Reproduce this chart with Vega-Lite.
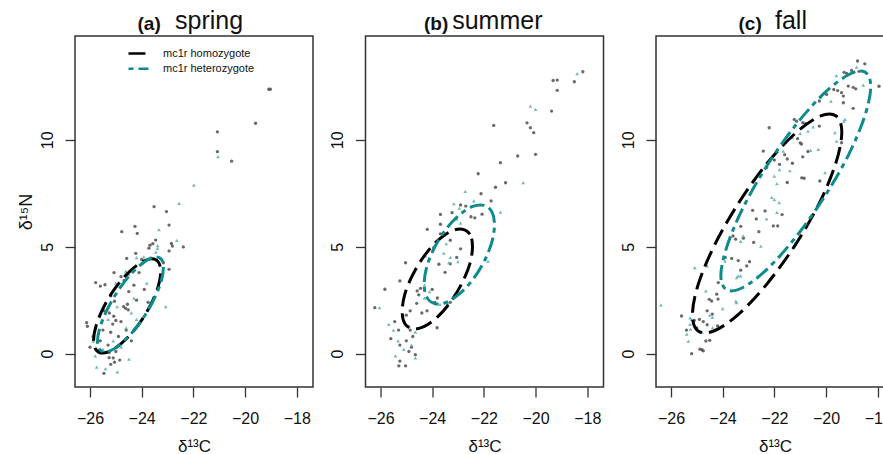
{
 "$schema": "https://vega.github.io/schema/vega-lite/v6.json",
 "background": "white",
 "padding": {"left": 16, "top": 8, "right": 0, "bottom": 0},
 "config": {
  "font": "Liberation Sans",
  "view": {"stroke": "#333", "strokeWidth": 1.5},
  "axis": {"grid": false, "domain": false, "tickColor": "#333", "tickWidth": 1.3, "tickSize": 10,
   "labelFont": "Liberation Sans", "labelFontSize": 16, "labelColor": "#111",
   "titleFont": "Liberation Sans", "titleFontSize": 17, "titleFontWeight": "normal", "titleColor": "#111"},
  "title": {"font": "Liberation Sans", "color": "#111", "fontSize": 25, "fontWeight": "normal", "anchor": "start", "frame": "group", "offset": -20}
 },
 "datasets": {
  "pts": [
   {"p":"a","g":"hom","x":-19.08,"y":12.36},{"p":"a","g":"hom","x":-19.02,"y":12.36},{"p":"a","g":"hom","x":-19.59,"y":10.77},{"p":"a","g":"hom","x":-21.07,"y":10.37},{"p":"a","g":"hom","x":-21.07,"y":9.44},{"p":"a","g":"hom","x":-20.52,"y":9.0},{"p":"a","g":"hom","x":-23.52,"y":6.87},{"p":"a","g":"hom","x":-23.04,"y":6.64},{"p":"a","g":"hom","x":-22.94,"y":6.01},{"p":"a","g":"hom","x":-24.26,"y":5.95},{"p":"a","g":"hom","x":-24.17,"y":5.62},{"p":"a","g":"hom","x":-24.77,"y":5.7},{"p":"a","g":"hom","x":-23.46,"y":5.31},{"p":"a","g":"hom","x":-22.85,"y":5.15},{"p":"a","g":"hom","x":-22.81,"y":5.03},{"p":"a","g":"hom","x":-22.39,"y":4.99},{"p":"a","g":"hom","x":-23.68,"y":5.07},{"p":"a","g":"hom","x":-23.57,"y":5.14},{"p":"a","g":"hom","x":-23.72,"y":4.93},{"p":"a","g":"hom","x":-22.94,"y":4.8},{"p":"a","g":"hom","x":-24.23,"y":4.69},{"p":"a","g":"hom","x":-24.58,"y":4.45},{"p":"a","g":"hom","x":-24.0,"y":4.4},{"p":"a","g":"hom","x":-23.16,"y":4.25},{"p":"a","g":"hom","x":-22.94,"y":3.94},{"p":"a","g":"hom","x":-24.8,"y":3.6},{"p":"a","g":"hom","x":-24.68,"y":3.42},{"p":"a","g":"hom","x":-24.1,"y":3.79},{"p":"a","g":"hom","x":-25.07,"y":3.79},{"p":"a","g":"hom","x":-25.78,"y":3.32},{"p":"a","g":"hom","x":-25.6,"y":3.16},{"p":"a","g":"hom","x":-25.42,"y":3.22},{"p":"a","g":"hom","x":-24.3,"y":3.2},{"p":"a","g":"hom","x":-23.9,"y":3.0},{"p":"a","g":"hom","x":-24.5,"y":2.9},{"p":"a","g":"hom","x":-25.2,"y":2.7},{"p":"a","g":"hom","x":-25.05,"y":2.45},{"p":"a","g":"hom","x":-24.55,"y":2.31},{"p":"a","g":"hom","x":-24.62,"y":2.12},{"p":"a","g":"hom","x":-24.52,"y":2.05},{"p":"a","g":"hom","x":-24.7,"y":2.2},{"p":"a","g":"hom","x":-24.2,"y":2.5},{"p":"a","g":"hom","x":-23.75,"y":2.4},{"p":"a","g":"hom","x":-25.45,"y":2.0},{"p":"a","g":"hom","x":-25.25,"y":1.9},{"p":"a","g":"hom","x":-25.08,"y":1.75},{"p":"a","g":"hom","x":-25.0,"y":1.55},{"p":"a","g":"hom","x":-25.12,"y":1.38},{"p":"a","g":"hom","x":-24.8,"y":1.5},{"p":"a","g":"hom","x":-26.13,"y":1.45},{"p":"a","g":"hom","x":-26.1,"y":1.28},{"p":"a","g":"hom","x":-25.5,"y":1.1},{"p":"a","g":"hom","x":-25.2,"y":1.0},{"p":"a","g":"hom","x":-24.6,"y":1.1},{"p":"a","g":"hom","x":-24.9,"y":0.8},{"p":"a","g":"hom","x":-25.6,"y":0.6},{"p":"a","g":"hom","x":-26.0,"y":0.3},{"p":"a","g":"hom","x":-25.26,"y":0.05},{"p":"a","g":"hom","x":-25.0,"y":0.1},{"p":"a","g":"hom","x":-25.1,"y":-0.2},{"p":"a","g":"hom","x":-25.26,"y":-0.19},{"p":"a","g":"hom","x":-25.2,"y":-0.5},{"p":"a","g":"hom","x":-25.05,"y":-0.4},{"p":"a","g":"hom","x":-25.46,"y":-0.92},{"p":"a","g":"hom","x":-24.85,"y":-0.3},{"p":"a","g":"hom","x":-25.3,"y":0.4},{"p":"a","g":"hom","x":-24.4,"y":0.6},
   {"p":"a","g":"het","x":-21.05,"y":9.21},{"p":"a","g":"het","x":-21.98,"y":7.88},{"p":"a","g":"het","x":-22.55,"y":7.02},{"p":"a","g":"het","x":-23.33,"y":5.8},{"p":"a","g":"het","x":-22.64,"y":5.3},{"p":"a","g":"het","x":-23.38,"y":5.05},{"p":"a","g":"het","x":-23.39,"y":4.92},{"p":"a","g":"het","x":-23.45,"y":4.75},{"p":"a","g":"het","x":-24.2,"y":4.49},{"p":"a","g":"het","x":-23.92,"y":4.52},{"p":"a","g":"het","x":-24.62,"y":3.86},{"p":"a","g":"het","x":-24.5,"y":3.7},{"p":"a","g":"het","x":-25.0,"y":3.3},{"p":"a","g":"het","x":-24.3,"y":2.6},{"p":"a","g":"het","x":-23.07,"y":2.2},{"p":"a","g":"het","x":-24.4,"y":1.9},{"p":"a","g":"het","x":-24.95,"y":2.2},{"p":"a","g":"het","x":-25.3,"y":1.6},{"p":"a","g":"het","x":-24.6,"y":1.2},{"p":"a","g":"het","x":-25.9,"y":0.83},{"p":"a","g":"het","x":-25.87,"y":0.59},{"p":"a","g":"het","x":-25.8,"y":-0.1},{"p":"a","g":"het","x":-25.74,"y":-0.63},{"p":"a","g":"het","x":-25.4,"y":-0.7},{"p":"a","g":"het","x":-24.94,"y":-0.85},{"p":"a","g":"het","x":-24.49,"y":-0.26},{"p":"a","g":"het","x":-24.8,"y":0.3},{"p":"a","g":"het","x":-25.1,"y":0.6},{"p":"a","g":"het","x":-25.5,"y":0.2},{"p":"a","g":"het","x":-24.2,"y":1.6},{"p":"a","g":"het","x":-23.8,"y":3.3},
   {"p":"b","g":"hom","x":-18.17,"y":13.18},{"p":"b","g":"hom","x":-19.32,"y":12.77},{"p":"b","g":"hom","x":-19.16,"y":12.79},{"p":"b","g":"hom","x":-18.5,"y":12.71},{"p":"b","g":"hom","x":-19.16,"y":12.31},{"p":"b","g":"hom","x":-19.38,"y":11.34},{"p":"b","g":"hom","x":-21.62,"y":10.67},{"p":"b","g":"hom","x":-20.33,"y":10.79},{"p":"b","g":"hom","x":-20.2,"y":10.56},{"p":"b","g":"hom","x":-20.07,"y":10.33},{"p":"b","g":"hom","x":-20.0,"y":9.32},{"p":"b","g":"hom","x":-20.69,"y":9.24},{"p":"b","g":"hom","x":-21.36,"y":8.93},{"p":"b","g":"hom","x":-22.22,"y":8.41},{"p":"b","g":"hom","x":-21.16,"y":7.99},{"p":"b","g":"hom","x":-21.55,"y":7.78},{"p":"b","g":"hom","x":-22.11,"y":7.48},{"p":"b","g":"hom","x":-21.72,"y":7.14},{"p":"b","g":"hom","x":-22.9,"y":6.95},{"p":"b","g":"hom","x":-22.7,"y":6.9},{"p":"b","g":"hom","x":-23.23,"y":6.59},{"p":"b","g":"hom","x":-22.07,"y":6.52},{"p":"b","g":"hom","x":-23.68,"y":6.51},{"p":"b","g":"hom","x":-22.5,"y":6.4},{"p":"b","g":"hom","x":-22.35,"y":6.35},{"p":"b","g":"hom","x":-23.68,"y":6.05},{"p":"b","g":"hom","x":-24.19,"y":5.81},{"p":"b","g":"hom","x":-23.68,"y":5.6},{"p":"b","g":"hom","x":-23.3,"y":5.3},{"p":"b","g":"hom","x":-22.9,"y":4.9},{"p":"b","g":"hom","x":-23.94,"y":4.95},{"p":"b","g":"hom","x":-23.05,"y":4.5},{"p":"b","g":"hom","x":-25.03,"y":4.25},{"p":"b","g":"hom","x":-23.74,"y":4.18},{"p":"b","g":"hom","x":-23.5,"y":3.8},{"p":"b","g":"hom","x":-23.3,"y":4.2},{"p":"b","g":"hom","x":-25.25,"y":3.4},{"p":"b","g":"hom","x":-25.83,"y":3.01},{"p":"b","g":"hom","x":-24.58,"y":2.93},{"p":"b","g":"hom","x":-24.45,"y":3.05},{"p":"b","g":"hom","x":-24.52,"y":2.75},{"p":"b","g":"hom","x":-24.0,"y":3.0},{"p":"b","g":"hom","x":-23.8,"y":2.6},{"p":"b","g":"hom","x":-23.9,"y":2.4},{"p":"b","g":"hom","x":-26.22,"y":2.15},{"p":"b","g":"hom","x":-24.6,"y":2.35},{"p":"b","g":"hom","x":-23.3,"y":2.4},{"p":"b","g":"hom","x":-24.85,"y":2.0},{"p":"b","g":"hom","x":-25.0,"y":1.8},{"p":"b","g":"hom","x":-24.4,"y":1.9},{"p":"b","g":"hom","x":-24.2,"y":2.0},{"p":"b","g":"hom","x":-23.81,"y":1.21},{"p":"b","g":"hom","x":-25.45,"y":1.5},{"p":"b","g":"hom","x":-25.3,"y":1.1},{"p":"b","g":"hom","x":-24.85,"y":1.1},{"p":"b","g":"hom","x":-25.6,"y":0.7},{"p":"b","g":"hom","x":-25.0,"y":0.6},{"p":"b","g":"hom","x":-24.75,"y":0.8},{"p":"b","g":"hom","x":-25.25,"y":0.4},{"p":"b","g":"hom","x":-24.8,"y":0.3},{"p":"b","g":"hom","x":-24.65,"y":-0.05},{"p":"b","g":"hom","x":-25.25,"y":-0.35},{"p":"b","g":"hom","x":-25.29,"y":-0.57},{"p":"b","g":"hom","x":-25.03,"y":-0.57},{"p":"b","g":"hom","x":-24.9,"y":0.1},
   {"p":"b","g":"het","x":-18.39,"y":13.09},{"p":"b","g":"het","x":-20.2,"y":11.57},{"p":"b","g":"het","x":-20.0,"y":11.42},{"p":"b","g":"het","x":-20.48,"y":7.99},{"p":"b","g":"het","x":-22.72,"y":7.58},{"p":"b","g":"het","x":-22.39,"y":7.14},{"p":"b","g":"het","x":-23.16,"y":7.01},{"p":"b","g":"het","x":-22.95,"y":6.8},{"p":"b","g":"het","x":-21.36,"y":6.62},{"p":"b","g":"het","x":-23.05,"y":6.3},{"p":"b","g":"het","x":-22.9,"y":6.1},{"p":"b","g":"het","x":-23.45,"y":5.14},{"p":"b","g":"het","x":-23.55,"y":4.7},{"p":"b","g":"het","x":-23.3,"y":4.5},{"p":"b","g":"het","x":-23.35,"y":4.25},{"p":"b","g":"het","x":-21.84,"y":4.33},{"p":"b","g":"het","x":-24.26,"y":4.57},{"p":"b","g":"het","x":-23.0,"y":4.3},{"p":"b","g":"het","x":-24.3,"y":3.2},{"p":"b","g":"het","x":-24.3,"y":2.6},{"p":"b","g":"het","x":-23.7,"y":2.3},{"p":"b","g":"het","x":-23.4,"y":2.35},{"p":"b","g":"het","x":-26.04,"y":2.15},{"p":"b","g":"het","x":-24.1,"y":2.9},{"p":"b","g":"het","x":-25.68,"y":1.37},{"p":"b","g":"het","x":-25.5,"y":1.1},{"p":"b","g":"het","x":-24.9,"y":1.3},{"p":"b","g":"het","x":-24.65,"y":1.0},{"p":"b","g":"het","x":-25.32,"y":0.6},{"p":"b","g":"het","x":-24.8,"y":0.4},{"p":"b","g":"het","x":-25.42,"y":-0.11},{"p":"b","g":"het","x":-24.65,"y":-0.2},{"p":"b","g":"het","x":-25.1,"y":0.2},
   {"p":"c","g":"hom","x":-18.78,"y":13.68},{"p":"c","g":"hom","x":-18.5,"y":13.55},{"p":"c","g":"hom","x":-19.01,"y":13.24},{"p":"c","g":"hom","x":-18.72,"y":13.2},{"p":"c","g":"hom","x":-19.3,"y":13.15},{"p":"c","g":"hom","x":-19.2,"y":13.1},{"p":"c","g":"hom","x":-19.7,"y":12.35},{"p":"c","g":"hom","x":-19.55,"y":12.3},{"p":"c","g":"hom","x":-19.4,"y":12.2},{"p":"c","g":"hom","x":-19.14,"y":12.51},{"p":"c","g":"hom","x":-18.95,"y":12.45},{"p":"c","g":"hom","x":-18.85,"y":12.38},{"p":"c","g":"hom","x":-17.95,"y":12.5},{"p":"c","g":"hom","x":-19.98,"y":12.12},{"p":"c","g":"hom","x":-19.33,"y":12.04},{"p":"c","g":"hom","x":-20.26,"y":11.81},{"p":"c","g":"hom","x":-19.33,"y":11.73},{"p":"c","g":"hom","x":-18.95,"y":11.47},{"p":"c","g":"hom","x":-21.23,"y":10.95},{"p":"c","g":"hom","x":-21.14,"y":10.87},{"p":"c","g":"hom","x":-20.9,"y":10.8},{"p":"c","g":"hom","x":-20.8,"y":10.75},{"p":"c","g":"hom","x":-20.26,"y":10.64},{"p":"c","g":"hom","x":-22.2,"y":10.56},{"p":"c","g":"hom","x":-19.4,"y":9.86},{"p":"c","g":"hom","x":-21.1,"y":10.05},{"p":"c","g":"hom","x":-21.0,"y":9.85},{"p":"c","g":"hom","x":-20.95,"y":9.8},{"p":"c","g":"hom","x":-22.43,"y":9.47},{"p":"c","g":"hom","x":-20.7,"y":9.45},{"p":"c","g":"hom","x":-21.6,"y":9.3},{"p":"c","g":"hom","x":-21.5,"y":9.1},{"p":"c","g":"hom","x":-20.9,"y":9.2},{"p":"c","g":"hom","x":-22.0,"y":9.05},{"p":"c","g":"hom","x":-21.8,"y":8.85},{"p":"c","g":"hom","x":-22.3,"y":8.7},{"p":"c","g":"hom","x":-21.3,"y":8.9},{"p":"c","g":"hom","x":-20.94,"y":8.22},{"p":"c","g":"hom","x":-20.85,"y":8.2},{"p":"c","g":"hom","x":-20.24,"y":8.07},{"p":"c","g":"hom","x":-21.5,"y":8.0},{"p":"c","g":"hom","x":-22.36,"y":6.67},{"p":"c","g":"hom","x":-22.84,"y":6.7},{"p":"c","g":"hom","x":-22.7,"y":6.3},{"p":"c","g":"hom","x":-21.7,"y":6.5},{"p":"c","g":"hom","x":-22.04,"y":5.97},{"p":"c","g":"hom","x":-21.87,"y":5.97},{"p":"c","g":"hom","x":-23.3,"y":5.95},{"p":"c","g":"hom","x":-22.6,"y":5.7},{"p":"c","g":"hom","x":-23.6,"y":5.5},{"p":"c","g":"hom","x":-23.2,"y":5.4},{"p":"c","g":"hom","x":-23.5,"y":5.35},{"p":"c","g":"hom","x":-22.8,"y":5.2},{"p":"c","g":"hom","x":-23.9,"y":4.5},{"p":"c","g":"hom","x":-23.65,"y":4.45},{"p":"c","g":"hom","x":-23.4,"y":4.35},{"p":"c","g":"hom","x":-23.07,"y":4.1},{"p":"c","g":"hom","x":-22.96,"y":4.3},{"p":"c","g":"hom","x":-23.3,"y":3.9},{"p":"c","g":"hom","x":-24.17,"y":3.32},{"p":"c","g":"hom","x":-24.23,"y":2.78},{"p":"c","g":"hom","x":-24.18,"y":2.55},{"p":"c","g":"hom","x":-24.52,"y":2.54},{"p":"c","g":"hom","x":-24.43,"y":2.46},{"p":"c","g":"hom","x":-24.6,"y":2.0},{"p":"c","g":"hom","x":-24.4,"y":1.85},{"p":"c","g":"hom","x":-25.59,"y":1.76},{"p":"c","g":"hom","x":-24.9,"y":1.6},{"p":"c","g":"hom","x":-24.75,"y":1.5},{"p":"c","g":"hom","x":-25.1,"y":1.55},{"p":"c","g":"hom","x":-24.6,"y":1.35},{"p":"c","g":"hom","x":-25.0,"y":1.2},{"p":"c","g":"hom","x":-24.2,"y":1.3},{"p":"c","g":"hom","x":-25.4,"y":1.1},{"p":"c","g":"hom","x":-24.65,"y":0.59},{"p":"c","g":"hom","x":-24.5,"y":0.62},{"p":"c","g":"hom","x":-24.88,"y":0.21},{"p":"c","g":"hom","x":-24.75,"y":0.13},{"p":"c","g":"hom","x":-24.8,"y":0.18},{"p":"c","g":"hom","x":-25.2,"y":0.0},
   {"p":"c","g":"het","x":-18.82,"y":13.4},{"p":"c","g":"het","x":-19.6,"y":13.0},{"p":"c","g":"het","x":-18.56,"y":12.55},{"p":"c","g":"het","x":-19.81,"y":11.81},{"p":"c","g":"het","x":-20.2,"y":12.0},{"p":"c","g":"het","x":-19.27,"y":10.95},{"p":"c","g":"het","x":-19.31,"y":10.87},{"p":"c","g":"het","x":-19.66,"y":10.33},{"p":"c","g":"het","x":-20.7,"y":10.4},{"p":"c","g":"het","x":-21.0,"y":10.3},{"p":"c","g":"het","x":-21.3,"y":10.1},{"p":"c","g":"het","x":-20.5,"y":10.6},{"p":"c","g":"het","x":-19.59,"y":9.94},{"p":"c","g":"het","x":-21.66,"y":9.47},{"p":"c","g":"het","x":-20.6,"y":9.5},{"p":"c","g":"het","x":-20.3,"y":9.55},{"p":"c","g":"het","x":-21.8,"y":8.6},{"p":"c","g":"het","x":-21.4,"y":8.55},{"p":"c","g":"het","x":-20.04,"y":8.46},{"p":"c","g":"het","x":-22.0,"y":8.3},{"p":"c","g":"het","x":-21.9,"y":7.95},{"p":"c","g":"het","x":-22.1,"y":7.3},{"p":"c","g":"het","x":-22.0,"y":7.2},{"p":"c","g":"het","x":-21.81,"y":7.06},{"p":"c","g":"het","x":-21.9,"y":6.6},{"p":"c","g":"het","x":-22.3,"y":6.3},{"p":"c","g":"het","x":-22.52,"y":5.03},{"p":"c","g":"het","x":-23.2,"y":5.5},{"p":"c","g":"het","x":-23.3,"y":5.25},{"p":"c","g":"het","x":-23.91,"y":4.33},{"p":"c","g":"het","x":-25.08,"y":4.02},{"p":"c","g":"het","x":-24.6,"y":4.1},{"p":"c","g":"het","x":-23.4,"y":3.63},{"p":"c","g":"het","x":-23.3,"y":3.63},{"p":"c","g":"het","x":-23.46,"y":3.55},{"p":"c","g":"het","x":-24.65,"y":2.93},{"p":"c","g":"het","x":-23.49,"y":2.46},{"p":"c","g":"het","x":-23.46,"y":2.38},{"p":"c","g":"het","x":-26.39,"y":2.28},{"p":"c","g":"het","x":-24.0,"y":2.1},{"p":"c","g":"het","x":-25.26,"y":1.67},{"p":"c","g":"het","x":-25.2,"y":1.6},{"p":"c","g":"het","x":-24.4,"y":1.7},{"p":"c","g":"het","x":-24.39,"y":1.21},{"p":"c","g":"het","x":-25.26,"y":1.37},{"p":"c","g":"het","x":-25.39,"y":0.91},{"p":"c","g":"het","x":-25.33,"y":0.59},{"p":"c","g":"het","x":-25.25,"y":1.15},{"p":"c","g":"het","x":-24.8,"y":1.0},{"p":"c","g":"het","x":-24.5,"y":1.8}
  ],
  "ell": [
   {"p":"a","g":"hom","i":0,"x":-23.26,"y":3.84},{"p":"a","g":"hom","i":1,"x":-23.36,"y":4.29},{"p":"a","g":"hom","i":2,"x":-23.64,"y":4.43},{"p":"a","g":"hom","i":3,"x":-24.06,"y":4.23},{"p":"a","g":"hom","i":4,"x":-24.56,"y":3.73},{"p":"a","g":"hom","i":5,"x":-25.06,"y":3.0},{"p":"a","g":"hom","i":6,"x":-25.48,"y":2.15},{"p":"a","g":"hom","i":7,"x":-25.76,"y":1.32},{"p":"a","g":"hom","i":8,"x":-25.86,"y":0.62},{"p":"a","g":"hom","i":9,"x":-25.76,"y":0.17},{"p":"a","g":"hom","i":10,"x":-25.48,"y":0.03},{"p":"a","g":"hom","i":11,"x":-25.06,"y":0.23},{"p":"a","g":"hom","i":12,"x":-24.56,"y":0.73},{"p":"a","g":"hom","i":13,"x":-24.06,"y":1.46},{"p":"a","g":"hom","i":14,"x":-23.64,"y":2.31},{"p":"a","g":"hom","i":15,"x":-23.36,"y":3.14},
   {"p":"a","g":"het","i":0,"x":-23.16,"y":4.03},{"p":"a","g":"het","i":1,"x":-23.25,"y":4.43},{"p":"a","g":"het","i":2,"x":-23.53,"y":4.51},{"p":"a","g":"het","i":3,"x":-23.94,"y":4.25},{"p":"a","g":"het","i":4,"x":-24.43,"y":3.7},{"p":"a","g":"het","i":5,"x":-24.92,"y":2.93},{"p":"a","g":"het","i":6,"x":-25.33,"y":2.07},{"p":"a","g":"het","i":7,"x":-25.61,"y":1.24},{"p":"a","g":"het","i":8,"x":-25.71,"y":0.58},{"p":"a","g":"het","i":9,"x":-25.61,"y":0.17},{"p":"a","g":"het","i":10,"x":-25.33,"y":0.09},{"p":"a","g":"het","i":11,"x":-24.92,"y":0.35},{"p":"a","g":"het","i":12,"x":-24.43,"y":0.9},{"p":"a","g":"het","i":13,"x":-23.94,"y":1.67},{"p":"a","g":"het","i":14,"x":-23.53,"y":2.53},{"p":"a","g":"het","i":15,"x":-23.25,"y":3.36},
   {"p":"b","g":"hom","i":0,"x":-22.44,"y":5.01},{"p":"b","g":"hom","i":1,"x":-22.54,"y":5.58},{"p":"b","g":"hom","i":2,"x":-22.84,"y":5.82},{"p":"b","g":"hom","i":3,"x":-23.28,"y":5.72},{"p":"b","g":"hom","i":4,"x":-23.8,"y":5.27},{"p":"b","g":"hom","i":5,"x":-24.32,"y":4.55},{"p":"b","g":"hom","i":6,"x":-24.76,"y":3.67},{"p":"b","g":"hom","i":7,"x":-25.06,"y":2.77},{"p":"b","g":"hom","i":8,"x":-25.16,"y":1.97},{"p":"b","g":"hom","i":9,"x":-25.06,"y":1.41},{"p":"b","g":"hom","i":10,"x":-24.76,"y":1.16},{"p":"b","g":"hom","i":11,"x":-24.32,"y":1.26},{"p":"b","g":"hom","i":12,"x":-23.8,"y":1.71},{"p":"b","g":"hom","i":13,"x":-23.28,"y":2.43},{"p":"b","g":"hom","i":14,"x":-22.84,"y":3.31},{"p":"b","g":"hom","i":15,"x":-22.54,"y":4.21},
   {"p":"b","g":"het","i":0,"x":-21.59,"y":6.03},{"p":"b","g":"het","i":1,"x":-21.69,"y":6.63},{"p":"b","g":"het","i":2,"x":-21.99,"y":6.93},{"p":"b","g":"het","i":3,"x":-22.43,"y":6.88},{"p":"b","g":"het","i":4,"x":-22.95,"y":6.48},{"p":"b","g":"het","i":5,"x":-23.47,"y":5.81},{"p":"b","g":"het","i":6,"x":-23.91,"y":4.96},{"p":"b","g":"het","i":7,"x":-24.21,"y":4.06},{"p":"b","g":"het","i":8,"x":-24.31,"y":3.24},{"p":"b","g":"het","i":9,"x":-24.21,"y":2.64},{"p":"b","g":"het","i":10,"x":-23.91,"y":2.34},{"p":"b","g":"het","i":11,"x":-23.47,"y":2.39},{"p":"b","g":"het","i":12,"x":-22.95,"y":2.79},{"p":"b","g":"het","i":13,"x":-22.43,"y":3.46},{"p":"b","g":"het","i":14,"x":-21.99,"y":4.31},{"p":"b","g":"het","i":15,"x":-21.69,"y":5.22},
   {"p":"c","g":"hom","i":0,"x":-19.39,"y":10.36},{"p":"c","g":"hom","i":1,"x":-19.61,"y":11.11},{"p":"c","g":"hom","i":2,"x":-20.23,"y":11.1},{"p":"c","g":"hom","i":3,"x":-21.17,"y":10.32},{"p":"c","g":"hom","i":4,"x":-22.28,"y":8.9},{"p":"c","g":"hom","i":5,"x":-23.38,"y":7.05},{"p":"c","g":"hom","i":6,"x":-24.32,"y":5.06},{"p":"c","g":"hom","i":7,"x":-24.95,"y":3.22},{"p":"c","g":"hom","i":8,"x":-25.17,"y":1.81},{"p":"c","g":"hom","i":9,"x":-24.95,"y":1.06},{"p":"c","g":"hom","i":10,"x":-24.32,"y":1.07},{"p":"c","g":"hom","i":11,"x":-23.38,"y":1.85},{"p":"c","g":"hom","i":12,"x":-22.28,"y":3.27},{"p":"c","g":"hom","i":13,"x":-21.17,"y":5.12},{"p":"c","g":"hom","i":14,"x":-20.23,"y":7.11},{"p":"c","g":"hom","i":15,"x":-19.61,"y":8.95},
   {"p":"c","g":"het","i":0,"x":-18.27,"y":12.49},{"p":"c","g":"het","i":1,"x":-18.49,"y":13.16},{"p":"c","g":"het","i":2,"x":-19.11,"y":13.05},{"p":"c","g":"het","i":3,"x":-20.06,"y":12.19},{"p":"c","g":"het","i":4,"x":-21.17,"y":10.69},{"p":"c","g":"het","i":5,"x":-22.28,"y":8.8},{"p":"c","g":"het","i":6,"x":-23.22,"y":6.8},{"p":"c","g":"het","i":7,"x":-23.84,"y":4.99},{"p":"c","g":"het","i":8,"x":-24.07,"y":3.65},{"p":"c","g":"het","i":9,"x":-23.84,"y":2.98},{"p":"c","g":"het","i":10,"x":-23.22,"y":3.09},{"p":"c","g":"het","i":11,"x":-22.28,"y":3.95},{"p":"c","g":"het","i":12,"x":-21.17,"y":5.45},{"p":"c","g":"het","i":13,"x":-20.06,"y":7.34},{"p":"c","g":"het","i":14,"x":-19.11,"y":9.34},{"p":"c","g":"het","i":15,"x":-18.49,"y":11.15}
  ]
 },
 "spacing": 52.5,
 "bounds": "flush",
 "resolve": {"scale": {"color": "independent", "strokeDash": "independent", "fill": "independent", "shape": "independent", "size": "independent"}, "legend": {"color": "independent", "strokeDash": "independent"}},
 "hconcat": [
  {
   "width": 238, "height": 351,
   "title": {"text": "spring", "dx": 100},
   "resolve": {"scale": {"x": "independent"}, "axis": {"x": "independent"}},
   "encoding": {
    "y": {"field": "y", "type": "quantitative", "scale": {"domain": [-1.56, 14.85], "nice": false, "zero": false}, "axis": {"values": [0, 5, 10], "title": "δ¹⁵N", "titleFontSize": 18, "labelAngle": -90, "labelAlign": "center", "labelBaseline": "bottom", "labelPadding": 10, "titlePadding": 4}}
   },
   "layer": [
    {
     "data": {"name": "pts"},
     "transform": [{"filter": "datum.p === 'a'"}],
     "mark": {"type": "point", "filled": true, "opacity": 0.85},
     "encoding": {
      "x": {"field": "x", "type": "quantitative", "scale": {"domain": [-26.58, -17.37], "nice": false, "zero": false}, "axis": {"values": [-26, -24, -22, -20, -18], "title": "δ¹³C", "labelPadding": 13, "titlePadding": 12}},
      "fill": {"field": "g", "type": "nominal", "scale": {"range": ["#5aaeae", "#505050"]}, "legend": null},
      "shape": {"field": "g", "type": "nominal", "scale": {"range": ["triangle-up", "circle"]}, "legend": null},
      "size": {"field": "g", "type": "nominal", "scale": {"range": [14, 11]}, "legend": null}
     }
    },
    {
     "data": {"name": "ell"},
     "transform": [{"filter": "datum.p === 'a'"}],
     "mark": {"type": "line", "interpolate": "cardinal-closed", "strokeWidth": 3, "strokeCap": "butt"},
     "encoding": {
      "x": {"field": "x", "type": "quantitative", "scale": {"domain": [-26.58, -17.37], "nice": false, "zero": false}, "axis": {"orient": "top", "title": "(a)", "ticks": false, "labels": false, "domain": false, "titleFontSize": 19, "titleFontWeight": "bold", "titleX": 62, "titleY": -7, "titleAlign": "left", "titleBaseline": "alphabetic"}},
      "order": {"field": "i", "type": "quantitative"},
      "color": {"field": "g", "type": "nominal", "scale": {"domain": ["hom", "het"], "range": ["#000000", "#0e8b8b"]},
       "legend": {"orient": "none", "legendX": 57, "legendY": 11, "title": null, "labelExpr": "datum.value === 'hom' ? 'mc1r homozygote' : 'mc1r heterozygote'", "labelFontSize": 11, "labelColor": "#111", "symbolSize": 100, "symbolStrokeWidth": 2.5, "labelOffset": 18, "rowPadding": 3.3, "symbolType": "M-2,0H2"}},
      "strokeDash": {"field": "g", "type": "nominal", "scale": {"domain": ["hom", "het"], "range": [[17, 7], [5, 5, 15, 5]]},
       "legend": {"orient": "none", "legendX": 57, "legendY": 11, "title": null, "labelExpr": "datum.value === 'hom' ? 'mc1r homozygote' : 'mc1r heterozygote'", "labelFontSize": 11, "labelColor": "#111", "symbolSize": 100, "symbolStrokeWidth": 2.5, "labelOffset": 18, "rowPadding": 3.3, "symbolType": "M-2,0H2"}}
     }
    }
   ]
  },
  {
   "width": 238, "height": 351,
   "title": {"text": "summer", "dx": 86.7},
   "resolve": {"scale": {"x": "independent"}, "axis": {"x": "independent"}},
   "encoding": {
    "y": {"field": "y", "type": "quantitative", "scale": {"domain": [-1.56, 14.85], "nice": false, "zero": false}, "axis": {"values": [0, 5, 10], "title": null, "labelAngle": -90, "labelAlign": "center", "labelBaseline": "bottom", "labelPadding": 10}}
   },
   "layer": [
    {
     "data": {"name": "pts"},
     "transform": [{"filter": "datum.p === 'b'"}],
     "mark": {"type": "point", "filled": true, "opacity": 0.85},
     "encoding": {
      "x": {"field": "x", "type": "quantitative", "scale": {"domain": [-26.58, -17.37], "nice": false, "zero": false}, "axis": {"values": [-26, -24, -22, -20, -18], "title": "δ¹³C", "labelPadding": 13, "titlePadding": 12}},
      "fill": {"field": "g", "type": "nominal", "scale": {"range": ["#5aaeae", "#505050"]}, "legend": null},
      "shape": {"field": "g", "type": "nominal", "scale": {"range": ["triangle-up", "circle"]}, "legend": null},
      "size": {"field": "g", "type": "nominal", "scale": {"range": [14, 11]}, "legend": null}
     }
    },
    {
     "data": {"name": "ell"},
     "transform": [{"filter": "datum.p === 'b'"}],
     "mark": {"type": "line", "interpolate": "cardinal-closed", "strokeWidth": 3, "strokeCap": "butt"},
     "encoding": {
      "x": {"field": "x", "type": "quantitative", "scale": {"domain": [-26.58, -17.37], "nice": false, "zero": false}, "axis": {"orient": "top", "title": "(b)", "ticks": false, "labels": false, "domain": false, "titleFontSize": 19, "titleFontWeight": "bold", "titleX": 58, "titleY": -7, "titleAlign": "left", "titleBaseline": "alphabetic"}},
      "order": {"field": "i", "type": "quantitative"},
      "color": {"field": "g", "type": "nominal", "scale": {"domain": ["hom", "het"], "range": ["#000000", "#0e8b8b"]}, "legend": null},
      "strokeDash": {"field": "g", "type": "nominal", "scale": {"domain": ["hom", "het"], "range": [[17, 7], [5, 5, 15, 5]]}, "legend": null}
     }
    }
   ]
  },
  {
   "width": 238, "height": 351,
   "title": {"text": "fall", "dx": 119},
   "resolve": {"scale": {"x": "independent"}, "axis": {"x": "independent"}},
   "encoding": {
    "y": {"field": "y", "type": "quantitative", "scale": {"domain": [-1.56, 14.85], "nice": false, "zero": false}, "axis": {"values": [0, 5, 10], "title": null, "labelAngle": -90, "labelAlign": "center", "labelBaseline": "bottom", "labelPadding": 10}}
   },
   "layer": [
    {
     "data": {"name": "pts"},
     "transform": [{"filter": "datum.p === 'c'"}],
     "mark": {"type": "point", "filled": true, "opacity": 0.85},
     "encoding": {
      "x": {"field": "x", "type": "quantitative", "scale": {"domain": [-26.58, -17.37], "nice": false, "zero": false}, "axis": {"values": [-26, -24, -22, -20, -18], "title": "δ¹³C", "labelPadding": 13, "titlePadding": 12}},
      "fill": {"field": "g", "type": "nominal", "scale": {"range": ["#5aaeae", "#505050"]}, "legend": null},
      "shape": {"field": "g", "type": "nominal", "scale": {"range": ["triangle-up", "circle"]}, "legend": null},
      "size": {"field": "g", "type": "nominal", "scale": {"range": [14, 11]}, "legend": null}
     }
    },
    {
     "data": {"name": "ell"},
     "transform": [{"filter": "datum.p === 'c'"}],
     "mark": {"type": "line", "interpolate": "cardinal-closed", "strokeWidth": 3, "strokeCap": "butt"},
     "encoding": {
      "x": {"field": "x", "type": "quantitative", "scale": {"domain": [-26.58, -17.37], "nice": false, "zero": false}, "axis": {"orient": "top", "title": "(c)", "ticks": false, "labels": false, "domain": false, "titleFontSize": 19, "titleFontWeight": "bold", "titleX": 82, "titleY": -7, "titleAlign": "left", "titleBaseline": "alphabetic"}},
      "order": {"field": "i", "type": "quantitative"},
      "color": {"field": "g", "type": "nominal", "scale": {"domain": ["hom", "het"], "range": ["#000000", "#0e8b8b"]}, "legend": null},
      "strokeDash": {"field": "g", "type": "nominal", "scale": {"domain": ["hom", "het"], "range": [[17, 7], [5, 5, 15, 5]]}, "legend": null}
     }
    }
   ]
  }
 ]
}
